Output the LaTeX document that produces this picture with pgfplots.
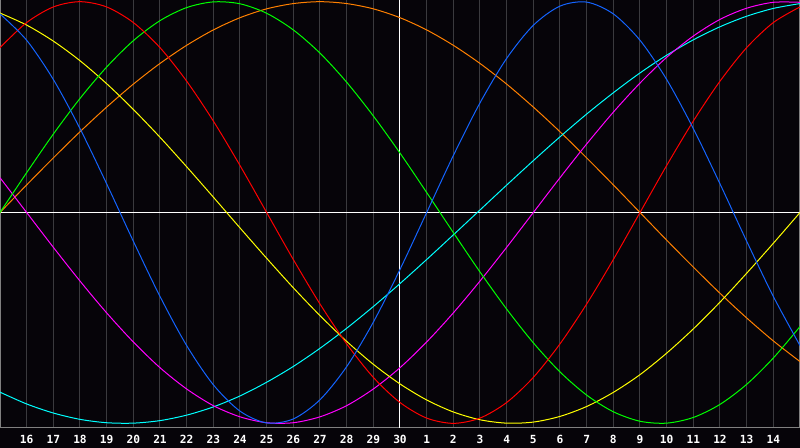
\documentclass[border=0pt]{standalone}
\usepackage{fontspec}
\setmonofont{DejaVu Sans Mono}
\usepackage{pgfplots}
\pgfplotsset{compat=1.18}

\definecolor{bg}{RGB}{6,4,9}
\definecolor{gridc}{RGB}{58,58,62}
\definecolor{framec}{RGB}{128,128,128}
\definecolor{cred}{RGB}{255,0,0}
\definecolor{cgreen}{RGB}{0,255,0}
\definecolor{cblue}{RGB}{20,100,255}
\definecolor{cyellow}{RGB}{255,255,0}
\definecolor{corange}{RGB}{255,128,0}
\definecolor{cmagenta}{RGB}{255,0,255}
\definecolor{ccyan}{RGB}{0,255,255}

\begin{document}
\begin{tikzpicture}
\useasboundingbox (0,-10pt) rectangle (400pt,214pt);
\fill[bg] (0,-10pt) rectangle (400pt,214pt);
\begin{axis}[
  scale only axis, width=400pt, height=214pt,
  xmin=0, xmax=30, ymin=-1.022, ymax=1.008,
  axis background/.style={fill=bg},
  axis line style={framec, line width=0.5pt},
  xtick={1,...,29},
  xticklabels={16,17,18,19,20,21,22,23,24,25,26,27,28,29,30,1,2,3,4,5,6,7,8,9,10,11,12,13,14},
  ytick=\empty,
  major tick length=0pt,
  xmajorgrids=true,
  grid style={gridc, line width=0.5pt},
  xticklabel style={font=\fontsize{5.6}{6}\selectfont\ttfamily\bfseries, text=white, anchor=center, inner sep=0pt, yshift=-5.6pt},
  every axis plot/.append style={line width=0.5pt, smooth, no marks},
  clip=true,
]
% reference lines
\addplot[white, sharp plot] coordinates {(0,0) (30,0)};
\addplot[white, sharp plot] coordinates {(15,-1.1) (15,1.1)};

% orange, 48 days
\addplot[corange] coordinates {
(0,0) (1,0.131) (2,0.259) (3,0.383) (4,0.500) (5,0.609) (6,0.707) (7,0.793) (8,0.866) (9,0.924)
(10,0.966) (11,0.991) (12,1.000) (13,0.991) (14,0.966) (15,0.924) (16,0.866) (17,0.793) (18,0.707) (19,0.609)
(20,0.500) (21,0.383) (22,0.259) (23,0.131) (24,0) (25,-0.131) (26,-0.259) (27,-0.383) (28,-0.500) (29,-0.609) (30,-0.707)};

% cyan, 53 days
\addplot[ccyan] coordinates {
(0,-0.852) (1,-0.908) (2,-0.951) (3,-0.981) (4,-0.997) (5,-0.999) (6,-0.987) (7,-0.961) (8,-0.922) (9,-0.870)
(10,-0.805) (11,-0.730) (12,-0.644) (13,-0.549) (14,-0.446) (15,-0.337) (16,-0.223) (17,-0.106) (18,0.012) (19,0.130)
(20,0.246) (21,0.359) (22,0.467) (23,0.568) (24,0.662) (25,0.746) (26,0.819) (27,0.881) (28,0.931) (29,0.968) (30,0.991)};

% magenta, 38 days
\addplot[cmagenta] coordinates {
(0,0.165) (1,0) (2,-0.165) (3,-0.325) (4,-0.476) (5,-0.614) (6,-0.736) (7,-0.837) (8,-0.916) (9,-0.969)
(10,-0.997) (11,-0.997) (12,-0.969) (13,-0.916) (14,-0.837) (15,-0.736) (16,-0.614) (17,-0.476) (18,-0.325) (19,-0.165)
(20,0) (21,0.165) (22,0.325) (23,0.476) (24,0.614) (25,0.736) (26,0.837) (27,0.916) (28,0.969) (29,0.997) (30,0.997)};

% yellow, 43 days
\addplot[cyellow] coordinates {
(0,0.946) (1,0.889) (2,0.813) (3,0.720) (4,0.611) (5,0.489) (6,0.357) (7,0.217) (8,0.073) (9,-0.073)
(10,-0.217) (11,-0.357) (12,-0.489) (13,-0.611) (14,-0.720) (15,-0.813) (16,-0.889) (17,-0.946) (18,-0.983) (19,-0.999)
(20,-0.994) (21,-0.967) (22,-0.920) (23,-0.853) (24,-0.769) (25,-0.667) (26,-0.552) (27,-0.425) (28,-0.288) (29,-0.146) (30,0)};

% green, 33 days
\addplot[cgreen] coordinates {
(0,0) (1,0.189) (2,0.372) (3,0.541) (4,0.690) (5,0.815) (6,0.910) (7,0.972) (8,0.999) (9,0.990)
(10,0.945) (11,0.866) (12,0.756) (13,0.618) (14,0.458) (15,0.282) (16,0.095) (17,-0.095) (18,-0.282) (19,-0.458)
(20,-0.618) (21,-0.756) (22,-0.866) (23,-0.945) (24,-0.990) (25,-0.999) (26,-0.972) (27,-0.910) (28,-0.815) (29,-0.690) (30,-0.541)};

% red, 28 days
\addplot[cred] coordinates {
(0,0.782) (1,0.901) (2,0.975) (3,1.000) (4,0.975) (5,0.901) (6,0.782) (7,0.623) (8,0.434) (9,0.223)
(10,0) (11,-0.223) (12,-0.434) (13,-0.623) (14,-0.782) (15,-0.901) (16,-0.975) (17,-1.000) (18,-0.975) (19,-0.901)
(20,-0.782) (21,-0.623) (22,-0.434) (23,-0.223) (24,0) (25,0.223) (26,0.434) (27,0.623) (28,0.782) (29,0.901) (30,0.975)};

% blue, 23 days
\addplot[cblue] coordinates {
(0,0.942) (1,0.817) (2,0.631) (3,0.398) (4,0.136) (5,-0.136) (6,-0.398) (7,-0.631) (8,-0.817) (9,-0.942)
(10,-0.998) (11,-0.979) (12,-0.888) (13,-0.731) (14,-0.520) (15,-0.270) (16,0) (17,0.270) (18,0.520) (19,0.731)
(20,0.888) (21,0.979) (22,0.998) (23,0.942) (24,0.817) (25,0.631) (26,0.398) (27,0.136) (28,-0.136) (29,-0.398) (30,-0.631)};
\end{axis}
\end{tikzpicture}
\end{document}
